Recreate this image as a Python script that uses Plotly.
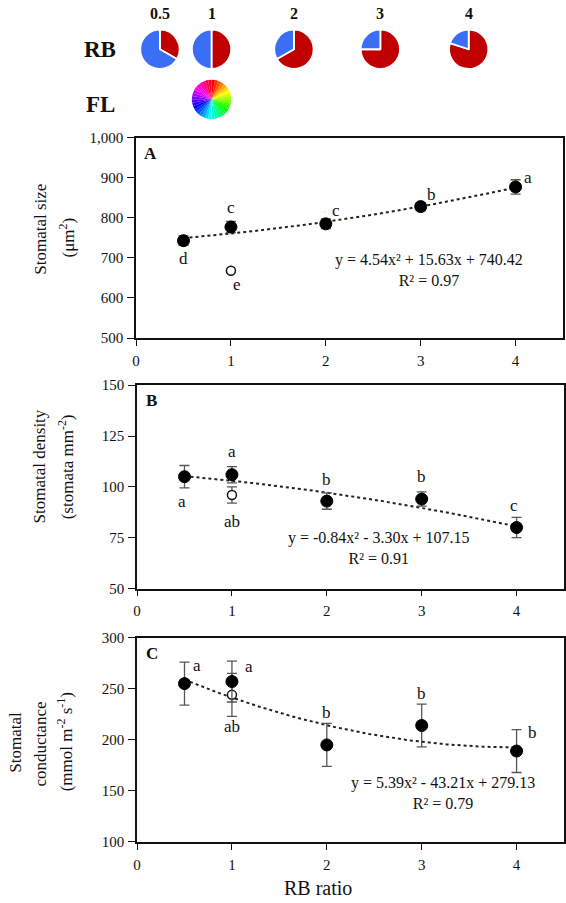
import plotly.graph_objects as go
import numpy as np
import colorsys

W, H = 566, 903
FONT = "Liberation Serif, Times New Roman, serif"
INK = "#111111"

# ---------------- data ----------------
rb_ratio = [0.5, 1, 2, 3, 4]
fl_x = [1]
x_ticks = [0, 1, 2, 3, 4]

size_rb = [743, 777, 785, 828, 877]
size_rb_err = [12, 14, 12, 10, 18]
size_fl = [668]
size_fl_err = [0]
size_letters = ["d", "c", "c", "b", "a"]
size_fl_letter = ["e"]
size_fit = [4.54, 15.63, 740.42]
size_eq = "y = 4.54x² + 15.63x + 740.42"
size_r2 = "R² = 0.97"

dens_rb = [105, 106, 93, 94, 80]
dens_rb_err = [5.5, 4, 4, 3.5, 5]
dens_fl = [96]
dens_fl_err = [4]
dens_letters = ["a", "a", "b", "b", "c"]
dens_fl_letter = ["ab"]
dens_fit = [-0.84, -3.30, 107.15]
dens_eq = "y = -0.84x² - 3.30x + 107.15"
dens_r2 = "R² = 0.91"

cond_rb = [255, 257, 195, 214, 189]
cond_rb_err = [21, 20, 21, 21, 21]
cond_fl = [244]
cond_fl_err = [21]
cond_letters = ["a", "a", "b", "b", "b"]
cond_fl_letter = ["ab"]
cond_fit = [5.39, -43.21, 279.13]
cond_eq = "y = 5.39x² - 43.21x + 279.13"
cond_r2 = "R² = 0.79"

# ---------------- helpers ----------------
def px(x):
    return x / W

def py(y):
    return 1 - y / H

fig = go.Figure()

panels = [
    dict(ax="", rng=[500, 1000], dt=100, fmt=",", dom=(132, 336), xdom=(133, 563),
         rb=size_rb, rbe=size_rb_err, fl=size_fl, fle=size_fl_err, fit=size_fit,
         letters=size_letters, fll=size_fl_letter,
         lshift=[(0, -18), (0, 20), (10, 13), (11, 12), (12, 9)], flshift=(6, -14),
         eq=size_eq, r2=size_r2, eqx=3.09, eqy=670, tag="A"),
    dict(ax="2", rng=[50, 150], dt=25, fmt="", dom=(384, 591), xdom=(134, 564),
         rb=dens_rb, rbe=dens_rb_err, fl=dens_fl, fle=dens_fl_err, fit=dens_fit,
         letters=dens_letters, fll=dens_fl_letter,
         lshift=[(-2, -25), (0, 23), (0, 22), (0, 23), (-3, 22)], flshift=(0, -27),
         eq=dens_eq, r2=dens_r2, eqx=2.55, eqy=70.0, tag="B"),
    dict(ax="3", rng=[100, 300], dt=50, fmt="", dom=(641, 849), xdom=(134, 564),
         rb=cond_rb, rbe=cond_rb_err, fl=cond_fl, fle=cond_fl_err, fit=cond_fit,
         letters=cond_letters, fll=cond_fl_letter,
         lshift=[(13, 18), (17, 15), (0, 32), (0, 32), (16, 19)], flshift=(0, -32),
         eq=cond_eq, r2=cond_r2, eqx=3.22, eqy=148.0, tag="C"),
]

annotations = []
layout_axes = {}

def paper_text(text, x, y, size, angle=0):
    annotations.append(dict(x=px(x), y=py(y), xref="paper", yref="paper", text=text,
                            xanchor="center", yanchor="middle", textangle=angle,
                            showarrow=False, font=dict(family=FONT, size=size, color=INK)))

for i, p in enumerate(panels):
    xa = "x" + p["ax"]
    ya = "y" + p["ax"]
    # trend line from displayed coefficients
    xs = np.linspace(min(rb_ratio), max(rb_ratio), 120)
    a, b, c = p["fit"]
    fig.add_trace(go.Scatter(x=xs, y=a * xs**2 + b * xs + c, mode="lines",
                             line=dict(color="#222222", width=2, dash="dot"),
                             xaxis=xa, yaxis=ya, showlegend=False, hoverinfo="skip"))
    # FL open circle
    fig.add_trace(go.Scatter(x=fl_x, y=p["fl"], mode="markers",
                             error_y=dict(type="data", array=p["fle"], visible=True,
                                          color="#555555", thickness=1.3, width=5),
                             marker=dict(size=9, color="white",
                                         line=dict(color="#111111", width=1.5)),
                             xaxis=xa, yaxis=ya, showlegend=False))
    # RB filled circles
    fig.add_trace(go.Scatter(x=rb_ratio, y=p["rb"], mode="markers",
                             error_y=dict(type="data", array=p["rbe"], visible=True,
                                          color="#555555", thickness=1.3, width=5),
                             marker=dict(size=12, color="black",
                                         line=dict(color="black", width=1)),
                             xaxis=xa, yaxis=ya, showlegend=False))

    xkey = "xaxis" + p["ax"]
    ykey = "yaxis" + p["ax"]
    ydom = [py(p["dom"][1]), py(p["dom"][0])]
    xdom = [px(p["xdom"][0]), px(p["xdom"][1])]
    layout_axes[xkey] = dict(domain=xdom, range=[0, 4.5], anchor=ya,
                             tickvals=x_ticks, ticks="outside", ticklen=6,
                             tickwidth=1.3, tickcolor=INK,
                             showline=True, linecolor=INK, linewidth=1.6, mirror=True,
                             showgrid=False, zeroline=False,
                             tickfont=dict(family=FONT, size=15, color=INK),
                             ticklabelstandoff=2)
    ytv = list(range(p["rng"][0], p["rng"][1] + 1, p["dt"]))
    layout_axes[ykey] = dict(domain=ydom, range=p["rng"], anchor=xa,
                             tickvals=ytv, tickformat=p["fmt"], ticks="outside",
                             ticklen=7, tickwidth=1.3, tickcolor=INK,
                             showline=True, linecolor=INK, linewidth=1.6, mirror=True,
                             showgrid=False, zeroline=False,
                             tickfont=dict(family=FONT, size=15, color=INK),
                             ticklabelstandoff=1)
    # overlay axes to draw the inner half of crossing ticks
    ox = "xaxis" + str(4 + i)
    oy = "yaxis" + str(4 + i)
    layout_axes[ox] = dict(overlaying=xa, range=[0, 4.5], anchor=ya, tickvals=x_ticks,
                           ticks="inside", ticklen=5, tickwidth=1.3, tickcolor=INK,
                           showticklabels=False, showline=False, showgrid=False,
                           zeroline=False)
    layout_axes[oy] = dict(overlaying=ya, range=p["rng"], anchor=xa, tickvals=ytv,
                           ticks="inside", ticklen=5, tickwidth=1.3, tickcolor=INK,
                           showticklabels=False, showline=False, showgrid=False,
                           zeroline=False)

    # significance letters
    for xv, yv, lt, (dx, dy) in zip(rb_ratio, p["rb"], p["letters"], p["lshift"]):
        annotations.append(dict(x=xv, y=yv, xref=xa, yref=ya, text=lt, showarrow=False,
                                xshift=dx, yshift=dy,
                                font=dict(family=FONT, size=17, color=INK)))
    annotations.append(dict(x=fl_x[0], y=p["fl"][0], xref=xa, yref=ya, text=p["fll"][0],
                            showarrow=False, xshift=p["flshift"][0], yshift=p["flshift"][1],
                            font=dict(family=FONT, size=17, color=INK)))
    # equation and R² (two centred lines)
    annotations.append(dict(x=p["eqx"], y=p["eqy"], xref=xa, yref=ya,
                            text=p["eq"] + "<br>" + p["r2"], align="center",
                            showarrow=False, font=dict(family=FONT, size=16, color=INK)))
    # panel tag
    paper_text("<b>" + p["tag"] + "</b>", p["xdom"][0] + 15, p["dom"][0] + 16, 17)

# y-axis titles
paper_text("Stomatal size", 36, 225, 17, -90)
paper_text("(μm<sup>2</sup>)", 63, 234, 17, -90)
paper_text("Stomatal density", 36, 467, 17, -90)
paper_text("(stomata mm<sup>-2</sup>)", 62, 467, 17, -90)
paper_text("Stomatal", 12, 747, 17, -90)
paper_text("conductance", 37, 749, 17, -90)
paper_text("(mmol m<sup>-2</sup> s<sup>-1</sup>)", 61, 747, 17, -90)

paper_text("RB ratio", 316, 896, 20)

# ---------------- pies ----------------
pie_cx = [157, 209, 292, 379, 468]
pie_cy = 42
R = 20
RED, BLUE = "#C00000", "#3A6EF4"
for r, cx in zip(rb_ratio, pie_cx):
    red_share = r / (1 + r)
    fig.add_trace(go.Pie(values=[red_share, 1 - red_share], sort=False,
                         direction="clockwise", rotation=0,
                         marker=dict(colors=[RED, BLUE], line=dict(color="white", width=1.8)),
                         textinfo="none", hoverinfo="skip", showlegend=False,
                         domain=dict(x=[px(cx - R), px(cx + R)], y=[py(pie_cy + R), py(pie_cy - R)])))
    paper_text("<b>" + ("0.5" if r == 0.5 else str(r)) + "</b>", cx, 6, 16)

# FL colour wheel
n_wheel = 36
wheel_vals = [1] * n_wheel
wheel_cols = []
for k in range(n_wheel):
    rr, gg, bb = colorsys.hsv_to_rgb(k / n_wheel, 1, 1)
    wheel_cols.append("rgb(%d,%d,%d)" % (rr * 255, gg * 255, bb * 255))
fig.add_trace(go.Pie(values=wheel_vals, sort=False, direction="clockwise", rotation=0,
                     marker=dict(colors=wheel_cols, line=dict(width=0)),
                     textinfo="none", hoverinfo="skip", showlegend=False,
                     domain=dict(x=[px(209 - R), px(209 + R)], y=[py(93 + R), py(93 - R)])))

paper_text("<b>RB</b>", 97, 42, 23)
paper_text("<b>FL</b>", 97, 98, 23)

fig.update_layout(width=W, height=H, autosize=False,
                  margin=dict(l=0, r=0, t=0, b=0),
                  paper_bgcolor="white", plot_bgcolor="white",
                  annotations=annotations, **layout_axes)

fig.write_html("out.html", config={"displayModeBar": False},
               post_script="document.body.style.margin='0';"
                           "document.body.style.overflow='hidden';")
